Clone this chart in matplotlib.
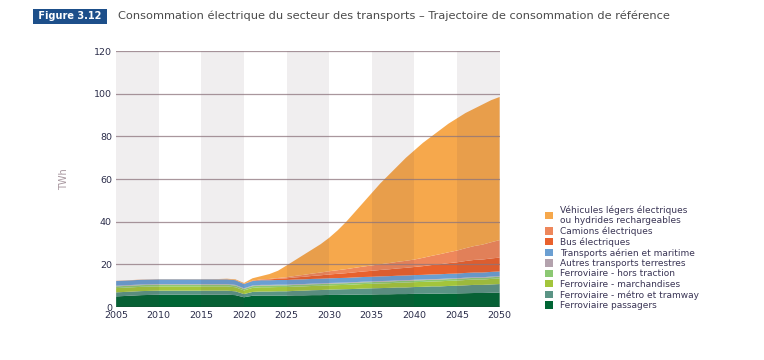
import matplotlib
matplotlib.use("Agg")
import matplotlib.pyplot as plt
from matplotlib.patches import Patch

years = list(range(2005, 2051))

# TWh par poste (valeurs approximatives)
ferro_passagers = [5.0, 5.2, 5.4, 5.6, 5.7, 5.8, 5.8, 5.8, 5.8, 5.8, 5.8, 5.8, 5.8, 5.8, 5.6,
                   4.6, 5.3, 5.4, 5.4, 5.4, 5.4, 5.5, 5.5, 5.6, 5.6, 5.7, 5.7, 5.8, 5.8, 5.9,
                   5.9, 6.0, 6.0, 6.1, 6.1, 6.2, 6.2, 6.3, 6.3, 6.4, 6.4, 6.5, 6.6, 6.6, 6.7, 6.8]
ferro_metro = [1.9, 1.9, 1.9, 1.9, 1.9, 1.9, 1.9, 1.9, 1.9, 1.9, 1.9, 1.9, 1.9, 1.9, 1.8,
               1.5, 1.8, 1.9, 1.9, 2.0, 2.0, 2.1, 2.2, 2.3, 2.4, 2.5, 2.6, 2.6, 2.7, 2.8,
               2.9, 2.9, 3.0, 3.1, 3.1, 3.2, 3.3, 3.4, 3.4, 3.5, 3.6, 3.7, 3.8, 3.8, 3.9, 4.0]
ferro_marchandises = [2.0, 2.0, 2.0, 2.0, 2.0, 2.0, 2.0, 2.0, 2.0, 2.0, 2.0, 2.0, 2.0, 2.0, 1.9,
                      1.7, 1.9, 2.0, 2.0, 2.0, 2.0, 2.0, 2.0, 2.0, 2.0, 2.0, 2.0, 2.0, 2.1, 2.1,
                      2.1, 2.2, 2.2, 2.2, 2.3, 2.3, 2.3, 2.3, 2.4, 2.4, 2.4, 2.5, 2.5, 2.5, 2.6, 2.6]
ferro_hors_traction = [0.8] * 15 + [0.7] + [0.8] * 30
autres_terrestres = [0.3] * 46
aerien_maritime = [2.2] * 15 + [2.0, 2.1] + [2.2] * 29
bus = [0.05] * 13 + [0.1, 0.1, 0.1, 0.2, 0.3, 0.4, 0.6, 0.8, 1.0, 1.2, 1.4, 1.6, 1.8,
                     2.0, 2.2, 2.4, 2.6, 2.8, 3.0, 3.2, 3.4, 3.6, 3.8,
                     4.1, 4.4, 4.7, 5.0, 5.3, 5.6, 5.9, 6.1, 6.3, 6.5]
camions = [0.0] * 17 + [0.1, 0.2, 0.35, 0.5, 0.7, 0.9, 1.1, 1.3, 1.5,
                        1.7, 1.9, 2.1, 2.3, 2.5, 2.7, 2.9, 3.1, 3.3, 3.5,
                        3.9, 4.3, 4.7, 5.1, 5.5, 6.0, 6.5, 7.0, 7.6, 8.2]
vehicules_legers = [0.05] * 12 + [0.1, 0.2, 0.3, 0.4, 1.1, 1.5, 2.3, 3.4, 5.5, 7.4, 9.4, 11.3, 13.3, 15.7,
                                  18.7, 22.2, 26.1, 30.0, 34.0, 37.9, 41.4, 44.8, 48.3, 51.2,
                                  53.9, 56.0, 58.2, 60.3, 62.0, 63.4, 64.4, 65.7, 66.6, 67.1]

series = [ferro_passagers, ferro_metro, ferro_marchandises, ferro_hors_traction,
          autres_terrestres, aerien_maritime, bus, camions, vehicules_legers]
labels = ["Ferroviaire passagers", "Ferroviaire - métro et tramway",
          "Ferroviaire - marchandises", "Ferroviaire - hors traction",
          "Autres transports terrestres", "Transports aérien et maritime",
          "Bus électriques", "Camions électriques",
          "Véhicules légers électriques\nou hydrides rechargeables"]
colors = ["#006534", "#5b9485", "#a3c53b", "#8cc873", "#b3a2ad", "#6b9fd2",
          "#e9612d", "#ee875b", "#f6a84c"]

fig = plt.figure(figsize=(7.64, 3.6), dpi=100)
ax = fig.add_axes([0.152, 0.147, 0.502, 0.711])

ax.stackplot(years, *series, colors=colors, linewidth=0, zorder=1)

# bandes grises alternées par période de 5 ans (assombrissent les aires)
for start in range(2005, 2050, 10):
    ax.axvspan(start, start + 5, color="#5a3a4a", alpha=0.085, lw=0, zorder=2)

for y in range(20, 121, 20):
    ax.axhline(y, color="#8c747c", lw=0.9, alpha=0.75, zorder=3)
ax.axhline(0, color="#333333", lw=1.0, zorder=4)

ax.set_xlim(2005, 2050)
ax.set_ylim(0, 120)
ax.set_xticks(range(2005, 2051, 5))
ax.set_yticks(range(0, 121, 20))
for s in ax.spines.values():
    s.set_visible(False)
ax.tick_params(length=0, labelsize=6.8, colors="#2b2d4a", pad=3)
ax.set_ylabel("TWh", color="#a8979f", fontsize=7, labelpad=18)

handles = [Patch(facecolor=c, edgecolor="none") for c in colors]
leg = fig.legend(handles[::-1], labels[::-1], loc="upper left",
                 bbox_to_anchor=(0.709, 0.44), frameon=False, fontsize=6.5,
                 handlelength=0.9, handleheight=0.9, handletextpad=0.7,
                 labelspacing=0.15, borderaxespad=0)
for t in leg.get_texts():
    t.set_color("#3a3555")

fig.text(0.046, 0.955, " Figure 3.12 ", fontsize=7, fontweight="bold", color="white",
         va="center", ha="left",
         bbox=dict(boxstyle="square,pad=0.25", facecolor="#1d4f8a", edgecolor="none"))
fig.text(0.154, 0.955,
         "Consommation électrique du secteur des transports – Trajectoire de consommation de référence",
         fontsize=8.2, color="#4a4a4a", va="center", ha="left")

fig.savefig("out.png", dpi=100)
